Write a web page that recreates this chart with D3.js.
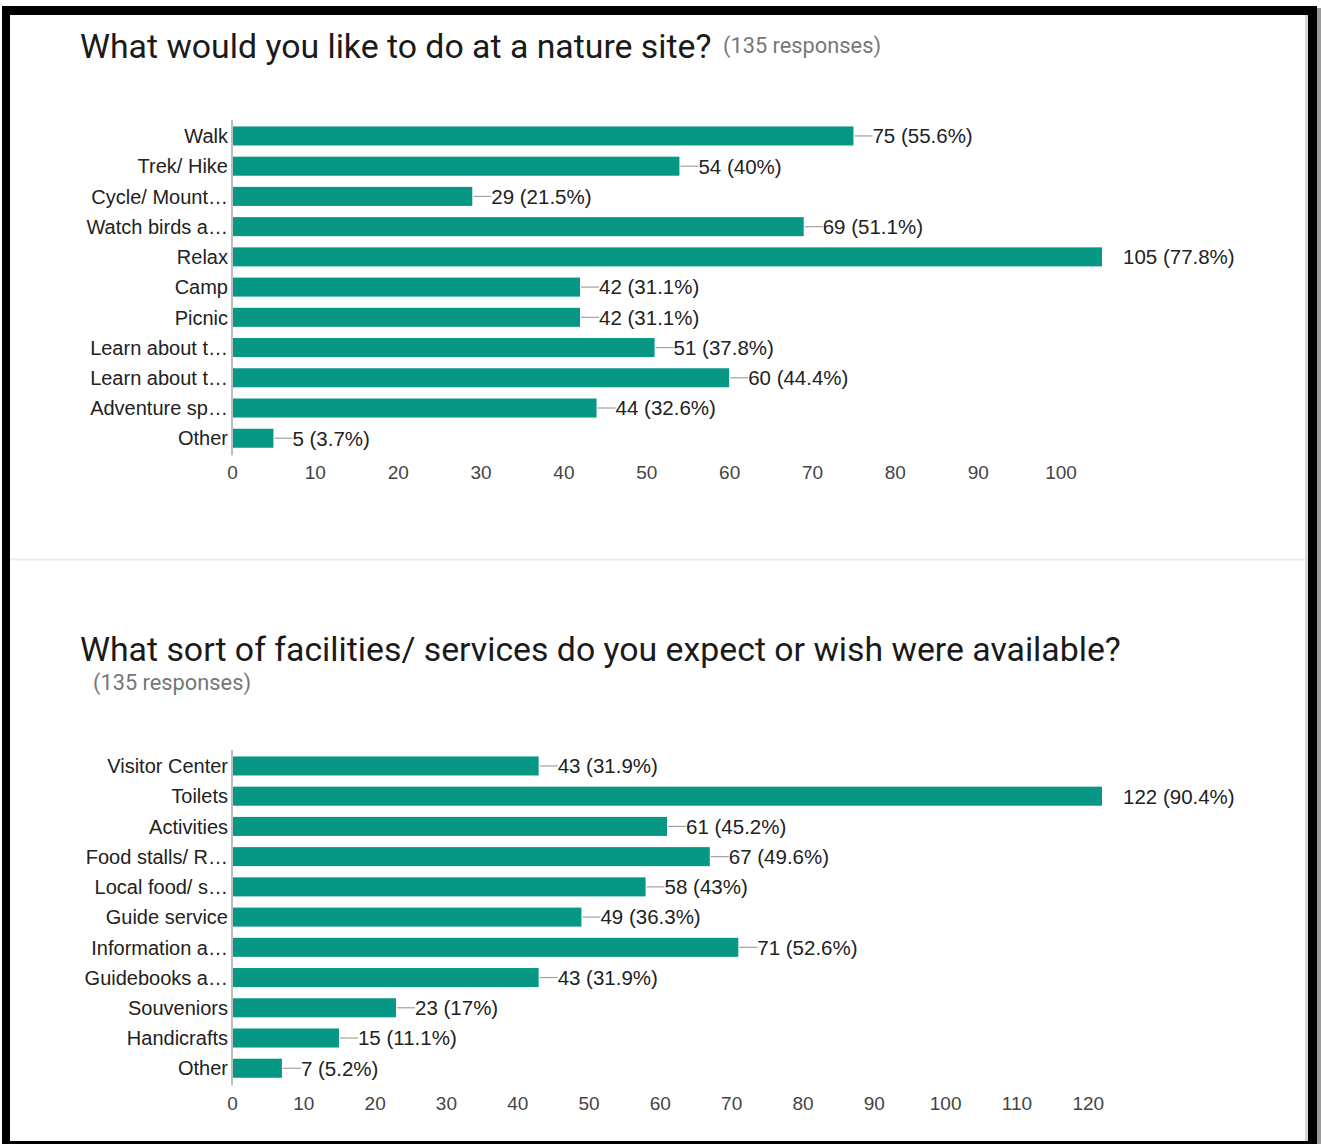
<!DOCTYPE html>
<html>
<head>
<meta charset="utf-8">
<script src="https://cdn.jsdelivr.net/npm/d3@7"></script>
<style>
  body { margin: 0; background: #fff; }
  svg { display: block; }
</style>
</head>
<body>
<div id="chart"></div>
<script>
// Survey data (135 responses each)
const respondents = 135;

const activities = ["Walk", "Trek/ Hike", "Cycle/ Mount\u2026", "Watch birds a\u2026", "Relax", "Camp",
  "Picnic", "Learn about t\u2026", "Learn about t\u2026", "Adventure sp\u2026", "Other"];
const activityCounts = [75, 54, 29, 69, 105, 42, 42, 51, 60, 44, 5];
const activityTicks = [0, 10, 20, 30, 40, 50, 60, 70, 80, 90, 100];

const facilities = ["Visitor Center", "Toilets", "Activities", "Food stalls/ R\u2026", "Local food/ s\u2026",
  "Guide service", "Information a\u2026", "Guidebooks a\u2026", "Souveniors", "Handicrafts", "Other"];
const facilityCounts = [43, 122, 61, 67, 58, 49, 71, 43, 23, 15, 7];
const facilityTicks = [0, 10, 20, 30, 40, 50, 60, 70, 80, 90, 100, 110, 120];

const W = 1321, H = 1144;
const barColor = "#079785";

const svg = d3.select("#chart").append("svg")
  .attr("width", W)
  .attr("height", H);

// frame
svg.append("rect").attr("x", 0).attr("y", 0).attr("width", W).attr("height", H).attr("fill", "#fff");
svg.append("rect").attr("x", 1317).attr("y", 8).attr("width", 4).attr("height", H).attr("fill", "#9a9a9a");
svg.append("rect").attr("x", 1305).attr("y", 15).attr("width", 3).attr("height", H - 18).attr("fill", "#d6d6d6");
svg.append("rect").attr("x", 2).attr("y", 6).attr("width", 1315).attr("height", 9).attr("fill", "#000");
svg.append("rect").attr("x", 2).attr("y", 6).attr("width", 8).attr("height", H).attr("fill", "#000");
svg.append("rect").attr("x", 1308).attr("y", 6).attr("width", 9).attr("height", H).attr("fill", "#000");
svg.append("rect").attr("x", 2).attr("y", 1141).attr("width", 1315).attr("height", 3).attr("fill", "#000");

// divider between the two questions
svg.append("line")
  .attr("x1", 10).attr("x2", 1305)
  .attr("y1", 559.5).attr("y2", 559.5)
  .attr("stroke", "#ebebeb").attr("stroke-width", 2);

function drawChart(cats, vals, ticks, top, axisY) {
  const g = svg.append("g");
  const maxVal = d3.max(vals);
  const x = d3.scaleLinear().domain([0, maxVal]).range([232, 1102]);
  const y = d3.scaleBand().domain(d3.range(cats.length))
    .range([top, top + cats.length * 30.2]).paddingInner(0.37).paddingOuter(0.18);

  g.selectAll("rect.bar")
    .data(vals)
    .join("rect")
    .attr("class", "bar")
    .attr("x", x(0))
    .attr("y", (d, i) => y(i))
    .attr("width", d => x(d) - x(0))
    .attr("height", y.bandwidth())
    .attr("fill", barColor);

  // vertical baseline
  g.append("line")
    .attr("x1", x(0)).attr("x2", x(0))
    .attr("y1", top - 1).attr("y2", top + cats.length * 30.2 + 2)
    .attr("stroke", "#bdbdbd").attr("stroke-width", 2);

  // category names
  g.selectAll("text.cat")
    .data(cats)
    .join("text")
    .attr("class", "cat")
    .attr("x", 228)
    .attr("y", (d, i) => y(i) + y.bandwidth() / 2)
    .attr("dy", "0.36em")
    .attr("text-anchor", "end")
    .attr("font-family", "Liberation Sans, Arial, sans-serif")
    .attr("font-size", 20)
    .attr("fill", "#222")
    .text(d => d);

  // leader lines + value labels (the longest bar gets no leader)
  vals.forEach((v, i) => {
    const cy = y(i) + y.bandwidth() / 2;
    const ex = x(v);
    const isMax = v === maxVal;
    if (!isMax) {
      g.append("line")
        .attr("x1", ex + 1).attr("x2", ex + 19)
        .attr("y1", cy).attr("y2", cy)
        .attr("stroke", "#a0a0a0").attr("stroke-width", 1.2);
    }
    const pct = Math.round(v / respondents * 1000) / 10;
    g.append("text")
      .attr("x", ex + (isMax ? 21 : 19))
      .attr("y", cy)
      .attr("dy", "0.36em")
      .attr("font-family", "Liberation Sans, Arial, sans-serif")
      .attr("font-size", 20.5)
      .attr("fill", "#222")
      .text(v + " (" + pct + "%)");
  });

  // x axis tick labels
  const axis = d3.axisBottom(x).tickValues(ticks).tickSize(0).tickPadding(0);
  const ag = g.append("g").attr("transform", `translate(0,${axisY})`).call(axis);
  ag.select(".domain").remove();
  ag.selectAll("text")
    .attr("y", 0)
    .attr("dy", "0.36em")
    .attr("font-family", "Liberation Sans, Arial, sans-serif")
    .attr("font-size", 19)
    .attr("fill", "#444");
}

// titles
function title(txt, tx, ty) {
  svg.append("text")
    .attr("x", tx).attr("y", ty)
    .attr("font-family", "Roboto, sans-serif")
    .attr("font-size", 33.8)
    .attr("fill", "#1a1a1a")
    .text(txt);
}
function sub(txt, tx, ty) {
  svg.append("text")
    .attr("x", tx).attr("y", ty)
    .attr("font-family", "Roboto, sans-serif")
    .attr("font-size", 21.8)
    .attr("fill", "#777")
    .text(txt);
}

title("What would you like to do at a nature site?", 80, 58);
sub("(135 responses)", 723, 53);
drawChart(activities, activityCounts, activityTicks, 121, 472);

title("What sort of facilities/ services do you expect or wish were available?", 80, 661);
sub("(135 responses)", 93, 690);
drawChart(facilities, facilityCounts, facilityTicks, 751, 1103);
</script>
</body>
</html>
